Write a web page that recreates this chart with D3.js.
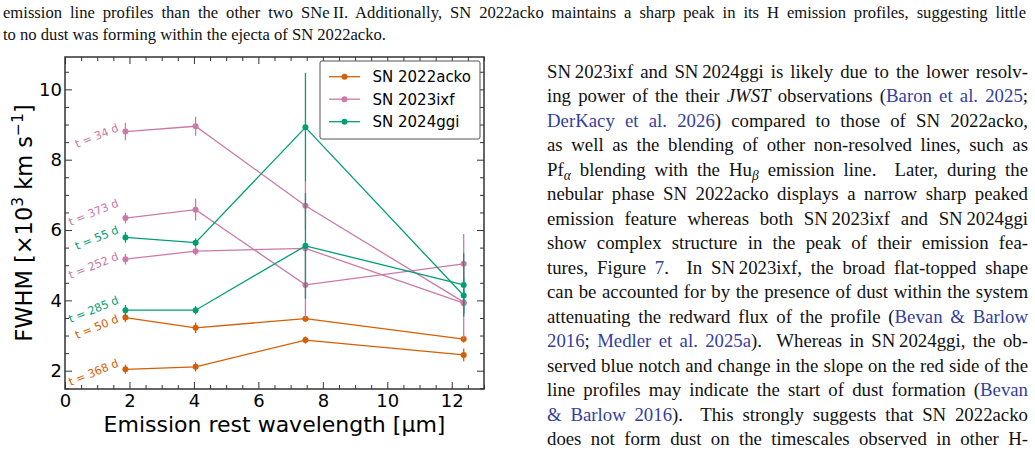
<!DOCTYPE html>
<html>
<head>
<meta charset="utf-8">
<script src="https://cdn.jsdelivr.net/npm/d3@7"></script>
<style>
    body { margin: 0; background: #fff; }
    svg { display: block; }
    .tick text { font-family: "DejaVu Sans", sans-serif; fill: #000; }
    .tick line { stroke: #333; }
    .prose { font-family: "Liberation Serif", "Times New Roman", serif; fill: #111; white-space: pre; }
</style>
</head>
<body>
<svg id="page" width="1035" height="458"></svg>
<script>
    // emission line rest wavelengths (micron): Pa-alpha, Br-alpha, Pf-alpha, Hu-alpha
    const wavelength = [1.875, 4.052, 7.46, 12.37];
    const supernovae = ['SN 2022acko', 'SN 2023ixf', 'SN 2024ggi'];

    // one entry per epoch
    const epochLabels = ['t = 50 d', 't = 368 d', 't = 34 d', 't = 373 d', 't = 252 d', 't = 55 d', 't = 285 d'];
    const epochSN = [0, 0, 1, 1, 1, 2, 2];
    const fwhm = [
        [3.51, 3.22, 3.48, 2.90],
        [2.04, 2.11, 2.87, 2.45],
        [8.80, 8.95, 6.69, 3.95],
        [6.34, 6.58, 4.44, 5.04],
        [5.17, 5.40, 5.48, 3.92],
        [5.79, 5.64, 8.92, 4.14],
        [3.72, 3.72, 5.55, 4.44]
    ];
    const fwhmErr = [
        [0.13, 0.15, 0.08, 0.10],
        [0.13, 0.13, 0.10, 0.18],
        [0.25, 0.27, 0.68, 1.05],
        [0.15, 0.31, 0.95, 0.85],
        [0.15, 0.12, 0.10, 0.30],
        [0.15, 0.12, 1.55, 0.50],
        [0.15, 0.12, 1.50, 0.90]
    ];
    // where each epoch label sits (data units)
    const labelY = [3.39, 2.13, 8.82, 6.68, 5.17, 5.92, 3.92];

    const xTicks = [0, 2, 4, 6, 8, 10, 12];
    const yTicks = [2, 4, 6, 8, 10];

    const snColors = ['#d55e00', '#cc79a7', '#009e73'];
    const citeColor = '#34409c';

    const captionLines = [
        ['emission line profiles than the other two SNe\u2009II. Additionally, SN 2022acko maintains a sharp peak in its H emission profiles, suggesting little'],
        ['to no dust was forming within the ejecta of SN 2022acko.']
    ];
    const columnLines = [
        ['SN\u20092023ixf and SN\u20092024ggi is likely due to the lower resolv-'],
        ['ing power of the their ', ['JWST', 'it'], ' observations (', ['Baron et al. 2025', 'cite'], ';'],
        [['DerKacy et al. 2026', 'cite'], ') compared to those of SN 2022acko,'],
        ['as well as the blending of other non-resolved lines, such as'],
        ['Pf', ['\u03b1', 'sub'], ' blending with the Hu', ['\u03b2', 'sub'], ' emission line.  Later, during the'],
        ['nebular phase SN 2022acko displays a narrow sharp peaked'],
        ['emission feature whereas both SN\u20092023ixf and SN\u20092024ggi'],
        ['show complex structure in the peak of their emission fea-'],
        ['tures, Figure ', ['7', 'cite'], '.  In SN\u20092023ixf, the broad flat-topped shape'],
        ['can be accounted for by the presence of dust within the system'],
        ['attenuating the redward flux of the profile (', ['Bevan & Barlow', 'cite']],
        [['2016', 'cite'], '; ', ['Medler et al. 2025a', 'cite'], ').  Whereas in SN\u20092024ggi, the ob-'],
        ['served blue notch and change in the slope on the red side of the'],
        ['line profiles may indicate the start of dust formation (', ['Bevan', 'cite']],
        [['& Barlow 2016', 'cite'], ').  This strongly suggests that SN 2022acko'],
        ['does not form dust on the timescales observed in other H-']
    ];

    const svg = d3.select('#page');

    // ---------- prose ----------
    function proseLine(x, y, segs, size, width) {
        const t = svg.append('text').attr('class', 'prose')
            .attr('x', x).attr('y', y).attr('font-size', size);
        let shift = 0;
        segs.forEach(s => {
            const str = typeof s === 'string' ? s : s[0];
            const kind = typeof s === 'string' ? '' : s[1];
            const ts = t.append('tspan').text(str);
            if (kind === 'cite') ts.attr('fill', citeColor);
            if (kind === 'it') ts.attr('font-style', 'italic');
            if (kind === 'sub') {
                ts.attr('dy', 4).attr('font-size', size * 0.72).attr('font-style', 'italic');
                shift = 4;
            } else if (shift) {
                ts.attr('dy', -shift);
                shift = 0;
            }
        });
        if (width) {
            const len = t.node().getComputedTextLength();
            const n = (t.text().match(/ /g) || []).length;
            if (n) t.style('word-spacing', ((width - len) / n) + 'px');
        }
    }

    proseLine(3, 18, captionLines[0], 16.6, 1023);
    proseLine(3, 40, captionLines[1], 16.6, 0);
    columnLines.forEach((segs, i) => proseLine(547, 78 + i * 24.47, segs, 18.8, 481));

    // ---------- chart ----------
    const plot = {left: 65, right: 484, top: 57, bottom: 389};
    const x = d3.scaleLinear().domain([0, 13]).range([plot.left, plot.right]);
    const y = d3.scaleLinear().domain([1.48, 10.92]).range([plot.bottom, plot.top]);

    const xMinor = d3.range(0, 13.01, 0.5).filter(v => v % 2 !== 0);
    const yMinor = d3.range(1.5, 10.91, 0.5).filter(v => v % 2 !== 0);

    const noLabel = () => '';
    const axes = svg.append('g');

    function addAxis(axisFn, scale, ticks, size, transform, labels) {
        const a = axisFn(scale).tickValues(ticks).tickSize(-size)
            .tickFormat(labels ? d3.format('d') : noLabel);
        const g = axes.append('g').attr('transform', transform).call(a);
        g.select('.domain').remove();
        g.selectAll('.tick line').attr('stroke-width', 1);
        return g;
    }

    const bx = addAxis(d3.axisBottom, x, xTicks, 7, `translate(0,${plot.bottom})`, true);
    bx.call(a => a.selectAll('.tick text').attr('font-size', 18).attr('dy', '0.85em'));
    addAxis(d3.axisBottom, x, xMinor, 4, `translate(0,${plot.bottom})`, false);
    addAxis(d3.axisTop, x, xTicks, 7, `translate(0,${plot.top})`, false);
    addAxis(d3.axisTop, x, xMinor, 4, `translate(0,${plot.top})`, false);

    const ly = addAxis(d3.axisLeft, y, yTicks, 7, `translate(${plot.left},0)`, true);
    ly.call(a => a.selectAll('.tick text').attr('font-size', 18).attr('x', -3));
    addAxis(d3.axisLeft, y, yMinor, 4, `translate(${plot.left},0)`, false);
    addAxis(d3.axisRight, y, yTicks, 7, `translate(${plot.right},0)`, false);
    addAxis(d3.axisRight, y, yMinor, 4, `translate(${plot.right},0)`, false);
    axes.selectAll('.tick text').filter(function () { return this.textContent === ''; }).remove();

    // data
    const line = d3.line().x((d, i) => x(wavelength[i])).y(d => y(d));
    const marks = svg.append('g');
    fwhm.forEach((vals, k) => {
        const c = snColors[epochSN[k]];
        const g = marks.append('g');
        g.selectAll('line').data(vals).join('line')
            .attr('x1', (d, i) => x(wavelength[i])).attr('x2', (d, i) => x(wavelength[i]))
            .attr('y1', (d, i) => y(d - fwhmErr[k][i])).attr('y2', (d, i) => y(d + fwhmErr[k][i]))
            .attr('stroke', c).attr('stroke-width', 1.3);
        g.append('path').datum(vals).attr('d', line)
            .attr('fill', 'none').attr('stroke', c).attr('stroke-width', 1.3);
        g.selectAll('circle').data(vals).join('circle')
            .attr('cx', (d, i) => x(wavelength[i])).attr('cy', d => y(d))
            .attr('r', 3).attr('fill', c);
    });

    // epoch labels
    svg.append('g').selectAll('text').data(epochLabels).join('text')
        .attr('transform', (d, k) => `translate(${x(wavelength[0]) - 6},${y(labelY[k])}) rotate(-22)`)
        .attr('text-anchor', 'end')
        .attr('font-family', 'DejaVu Sans').attr('font-size', 11.2)
        .attr('fill', (d, k) => snColors[epochSN[k]])
        .text(d => d);

    // frame
    svg.append('rect')
        .attr('x', plot.left).attr('y', plot.top)
        .attr('width', plot.right - plot.left).attr('height', plot.bottom - plot.top)
        .attr('fill', 'none').attr('stroke', '#333').attr('stroke-width', 1.5);

    // axis titles
    svg.append('text')
        .attr('x', (plot.left + plot.right) / 2).attr('y', 432)
        .attr('text-anchor', 'middle')
        .attr('font-family', 'DejaVu Sans').attr('font-size', 22)
        .text('Emission rest wavelength [\u03bcm]');

    const yt = svg.append('text')
        .attr('transform', `translate(32,${(plot.top + plot.bottom) / 2}) rotate(-90)`)
        .attr('text-anchor', 'middle')
        .attr('font-family', 'DejaVu Sans').attr('font-size', 22.5);
    yt.append('tspan').text('FWHM [\u00d710');
    yt.append('tspan').attr('font-size', 15.5).attr('dy', -9).text('3');
    yt.append('tspan').attr('dy', 9).text(' km s');
    yt.append('tspan').attr('font-size', 15.5).attr('dy', -9).text('\u22121');
    yt.append('tspan').attr('dy', 9).text(']');

    // legend
    const lg = svg.append('g');
    lg.append('rect').attr('x', 320).attr('y', 61).attr('width', 160).attr('height', 78)
        .attr('rx', 2).attr('fill', '#fff').attr('stroke', '#555').attr('stroke-width', 1);
    const items = lg.selectAll('g').data(supernovae).join('g')
        .attr('transform', (d, i) => `translate(329,${76.7 + i * 22.5})`);
    items.append('line').attr('x1', 0).attr('x2', 31)
        .attr('stroke', (d, i) => snColors[i]).attr('stroke-width', 1.3);
    items.append('circle').attr('cx', 15.5).attr('r', 3).attr('fill', (d, i) => snColors[i]);
    items.append('text').attr('x', 43.5).attr('dy', '0.36em')
        .attr('font-family', 'DejaVu Sans').attr('font-size', 15)
        .text(d => d);
</script>
</body>
</html>
